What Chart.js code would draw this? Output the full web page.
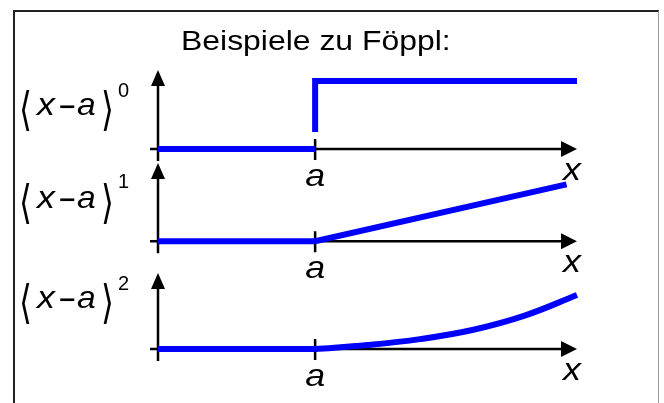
<!DOCTYPE html>
<html>
<head>
<meta charset="utf-8">
<script src="https://cdn.jsdelivr.net/npm/chart.js@4"></script>
<style>
body { margin: 0; background: #fff; }
#wrap { position: relative; width: 664px; height: 403px; overflow: hidden; background: #fff; }
#frame { position: absolute; left: 13px; top: 10px; width: 643px; height: 420px;
  border-top: 2px solid #222; border-left: 2px solid #222; border-right: 1px solid #999; }
canvas { position: absolute; left: 0; top: 0; }
</style>
</head>
<body>
<div id="wrap">
  <div id="frame"></div>
  <canvas id="c0" width="664" height="403"></canvas>
  <canvas id="c1" width="664" height="403"></canvas>
  <canvas id="c2" width="664" height="403"></canvas>
</div>
<script>
// values (x in units, a = 3)
var titleText = 'Beispiele zu Föppl:';
var tickLabel = 'a';
var axisLabel = 'x';
var aPos = 3;
var xMax = 8;
var exponents = ['0', '1', '2'];

var step0X = [0, 3, 3, 3, 3, 8];
var step0Y = [0, 0, null, 0.25, 1, 1];
var ramp1X = [0, 3, 7.8];
var ramp1Y = [0, 0, 4.8];
var flat2X = [0, 3];
var flat2Y = [0, 0];
var quad2X = [3, 4, 5, 6, 7, 8];
var quad2Y = [0, 1.9, 4.7, 9, 15.8, 25.5];

var rows = [
  { id: 'c0', lines: [[step0X, step0Y]], top: 70, bottom: 160, min: -0.16, max: 1.16, base: 115, supBase: 97 },
  { id: 'c1', lines: [[ramp1X, ramp1Y]], top: 163, bottom: 253, min: -1, max: 6.6, base: 208, supBase: 188 },
  { id: 'c2', lines: [[flat2X, flat2Y], [quad2X, quad2Y]], top: 273, bottom: 362, min: -6.1, max: 35.9, base: 308, supBase: 290 }
];

function drawText(ctx, txt, x, y, font, align, sx, sy) {
  ctx.save();
  ctx.font = font;
  ctx.textAlign = align || 'left';
  ctx.textBaseline = 'alphabetic';
  ctx.translate(x, y);
  ctx.scale(sx || 1.18, sy || 1);
  ctx.fillText(txt, 0, 0);
  ctx.restore();
}

function toPoints(xs, ys) {
  return xs.map(function (x, i) { return { x: x, y: ys[i] }; });
}

var fopplPlugin = {
  id: 'foppl',
  beforeDatasetsDraw: function (chart) {
    var ctx = chart.ctx, sx = chart.scales.x, sy = chart.scales.y;
    var x0 = sx.getPixelForValue(0), y0 = sy.getPixelForValue(0);
    var xEnd = sx.getPixelForValue(sx.max), yTop = sy.getPixelForValue(sy.max);
    var xa = sx.getPixelForValue(aPos);
    ctx.save();
    ctx.strokeStyle = '#000';
    ctx.fillStyle = '#000';
    ctx.lineWidth = 2.5;
    ctx.beginPath();
    ctx.moveTo(x0 - 8, y0); ctx.lineTo(xEnd - 12, y0);
    ctx.moveTo(x0, y0 + 12); ctx.lineTo(x0, yTop + 12);
    ctx.moveTo(xa, y0 - 10); ctx.lineTo(xa, y0 + 11);
    ctx.stroke();
    ctx.beginPath();
    ctx.moveTo(xEnd, y0); ctx.lineTo(xEnd - 16, y0 - 8); ctx.lineTo(xEnd - 16, y0 + 8);
    ctx.closePath(); ctx.fill();
    ctx.beginPath();
    ctx.moveTo(x0, yTop); ctx.lineTo(x0 - 7, yTop + 16); ctx.lineTo(x0 + 7, yTop + 16);
    ctx.closePath(); ctx.fill();
    ctx.restore();
  },
  afterDraw: function (chart, args, opts) {
    var ctx = chart.ctx, sx = chart.scales.x, sy = chart.scales.y;
    var y0 = sy.getPixelForValue(0);
    var xEnd = sx.getPixelForValue(sx.max);
    var xa = sx.getPixelForValue(aPos);
    var it = 'italic 32px "Liberation Sans", Arial, sans-serif';
    var br = '46px "DejaVu Sans", sans-serif';
    ctx.save();
    ctx.fillStyle = '#000';
    drawText(ctx, tickLabel, xa, y0 + 37, it, 'center', 1.12);
    drawText(ctx, axisLabel, xEnd - 5, y0 + 31, it, 'center', 1.12);
    // left label  <x - a>^n
    var b = opts.base;
    drawText(ctx, '\u27E8', 19, b + 10, br, 'left', 0.72, 1);
    drawText(ctx, 'x', 37, b, it, 'left', 1.12);
    drawText(ctx, '\u2212', 58, b + 2, '32px "DejaVu Sans", sans-serif', 'left', 0.7);
    drawText(ctx, 'a', 77, b, it, 'left', 1.05);
    drawText(ctx, '\u27E9', 101, b + 10, br, 'left', 0.72, 1);
    drawText(ctx, opts.sup, 118, opts.supBase, '20px "Liberation Sans", Arial, sans-serif', 'left', 1.0);
    if (opts.title) {
      drawText(ctx, opts.title, 181, 50, '28px "Liberation Sans", Arial, sans-serif', 'left', 1.14);
    }
    ctx.restore();
  }
};

rows.forEach(function (r, i) {
  new Chart(document.getElementById(r.id).getContext('2d'), {
    type: 'line',
    data: {
      datasets: r.lines.map(function (l, k) {
        return {
          data: toPoints(l[0], l[1]),
          borderColor: '#0000ff',
          borderWidth: 6,
          pointRadius: 0,
          fill: false,
          spanGaps: false,
          clip: false,
          borderCapStyle: 'butt',
          borderJoinStyle: 'miter',
          tension: k === 1 ? 0.4 : 0
        };
      })
    },
    options: {
      responsive: false,
      animation: false,
      events: [],
      layout: { padding: { left: 158, right: 664 - 577, top: r.top, bottom: 403 - r.bottom } },
      plugins: {
        legend: { display: false },
        tooltip: { enabled: false },
        foppl: { base: r.base, supBase: r.supBase, sup: exponents[i], title: i === 0 ? titleText : null }
      },
      scales: {
        x: { type: 'linear', min: 0, max: xMax, display: false },
        y: { type: 'linear', min: r.min, max: r.max, display: false }
      }
    },
    plugins: [fopplPlugin]
  });
});
</script>
</body>
</html>
